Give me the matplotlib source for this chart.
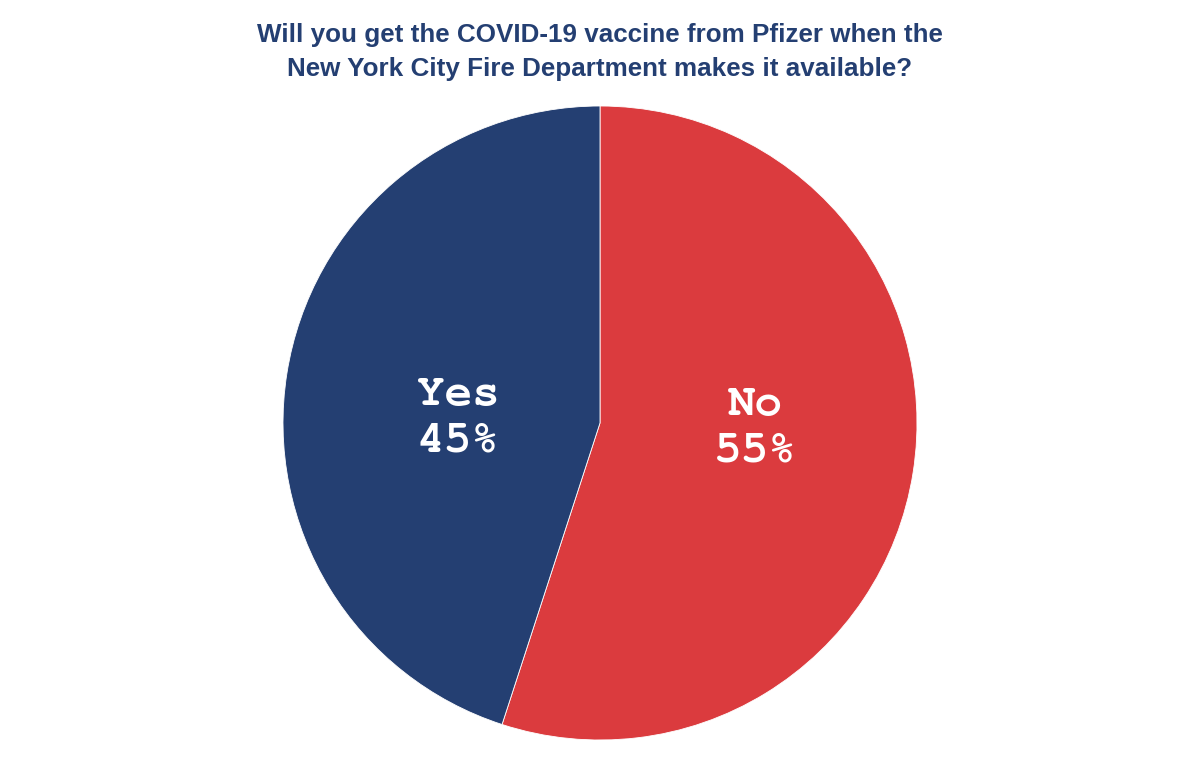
import matplotlib
matplotlib.use("Agg")
import matplotlib.pyplot as plt
from matplotlib import font_manager

categories = ["No", "Yes"]
values = [55, 45]
colors = ["#DB3B3E", "#243F72"]
title = "Will you get the COVID-19 vaccine from Pfizer when the\nNew York City Fire Department makes it available?"

names = {f.name for f in font_manager.fontManager.ttflist}
mono = next((n for n in ["Courier New", "Nimbus Mono PS", "Nimbus Mono L", "FreeMono",
                         "Courier", "Liberation Mono"] if n in names), "DejaVu Sans Mono")

fig = plt.figure(figsize=(12, 7.66), dpi=100)
fig.patch.set_facecolor("white")
ax = fig.add_axes([283/1200, 26/766, 634/1200, 634/766])
wedges, _ = ax.pie(values, colors=colors, startangle=90, counterclock=False,
                   wedgeprops=dict(linewidth=0.6, edgecolor="white"))
ax.set_xlim(-1, 1)
ax.set_ylim(-1, 1)
ax.set_aspect("equal")

label_pos = {"No": (0.49, -0.016), "Yes": (-0.448, 0.016)}
for cat, val in zip(categories, values):
    x, y = label_pos[cat]
    ax.text(x, y, f"{cat}\n{val}%", ha="center", va="center", color="white",
            fontsize=33, fontweight="bold", family=mono, linespacing=1.3)

fig.text(0.5, 1 - 52/766, title, ha="center", va="center", color="#243F72",
         fontsize=18.7, fontweight="bold", family="Liberation Sans", linespacing=1.55)

fig.savefig("out.png", dpi=100, facecolor="white")
